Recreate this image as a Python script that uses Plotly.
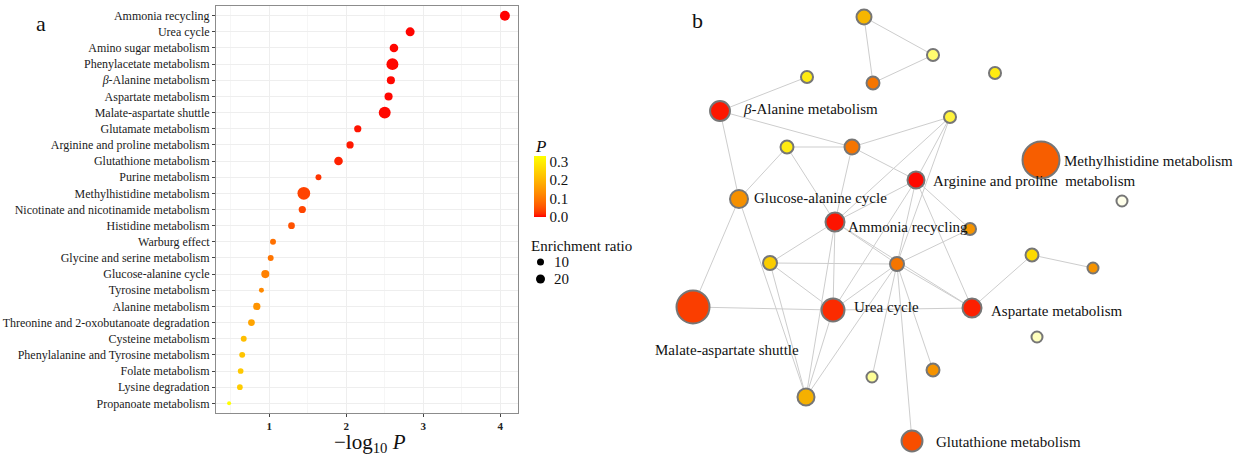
import math
import plotly.graph_objects as go

# ---------------- Panel a data ----------------
pathways = ["Ammonia recycling", "Urea cycle", "Amino sugar metabolism", "Phenylacetate metabolism",
            "β-Alanine metabolism", "Aspartate metabolism", "Malate-aspartate shuttle",
            "Glutamate metabolism", "Arginine and proline metabolism", "Glutathione metabolism",
            "Purine metabolism", "Methylhistidine metabolism", "Nicotinate and nicotinamide metabolism",
            "Histidine metabolism", "Warburg effect", "Glycine and serine metabolism",
            "Glucose-alanine cycle", "Tyrosine metabolism", "Alanine metabolism",
            "Threonine and 2-oxobutanoate degradation", "Cysteine metabolism",
            "Phenylalanine and Tyrosine metabolism", "Folate metabolism", "Lysine degradation",
            "Propanoate metabolism"]
neg_log10_p = [4.06, 2.83, 2.62, 2.60, 2.58, 2.55, 2.50, 2.15, 2.05, 1.90, 1.64, 1.45, 1.43,
               1.29, 1.05, 1.02, 0.95, 0.90, 0.84, 0.77, 0.67, 0.65, 0.63, 0.62, 0.48]
enrichment_ratio = [26, 20, 18, 41, 15, 15, 41, 11, 11, 18, 6, 48, 11, 9, 6, 6, 15, 3.4, 11, 9,
                    6, 6, 5.3, 5.3, 1.4]
x_ticks = [1, 2, 3, 4]
p_ticks = [0.0, 0.1, 0.2, 0.3]
size_legend_values = [10, 20]

# ---------------- Panel b data (network layout coordinates) ----------------
node_x = [2.44, 3.13, 2.53, 3.75, 1.87, 1.00, 1.67, 2.32, 3.30, 2.96, 4.21, 5.02, 1.19, 2.15,
          3.50, 1.50, 2.77, 4.12, 4.73, 2.13, 3.52, 0.73, 4.17, 2.52, 3.13, 1.86, 2.92]
node_y = [4.40, 4.02, 3.74, 3.84, 3.80, 3.46, 3.10, 3.10, 3.40, 2.77, 2.97, 2.56, 2.58, 2.35,
          2.28, 1.94, 1.93, 2.02, 1.89, 1.47, 1.49, 1.50, 1.20, 0.80, 0.87, 0.60, 0.16]
node_heat = [0.52, 0.83, 0.30, 0.72, 0.72, 0.06, 0.72, 0.30, 0.77, 0.02, 0.24, 0.99, 0.39, 0.05,
             0.40, 0.60, 0.30, 0.65, 0.40, 0.11, 0.08, 0.16, 0.93, 0.88, 0.40, 0.50, 0.20]
node_weight = [18, 12.3, 14, 12.3, 12.3, 30, 14, 18, 12.3, 22.6, 95, 10.6, 25, 27.6,
               12.3, 16, 16, 14, 10.6, 39, 27.6, 76.6, 10.6, 10.6, 14, 22.6, 33]
edges = [(0, 1), (0, 2), (1, 2), (4, 5), (5, 7), (5, 12), (6, 7), (6, 12), (6, 13),
         (7, 13), (7, 9), (8, 7), (8, 9), (8, 16), (8, 13), (12, 21), (12, 25),
         (13, 9), (13, 15), (13, 19), (13, 16), (13, 20), (13, 25),
         (9, 16), (9, 19), (9, 14), (9, 20), (15, 16), (15, 19), (15, 25),
         (16, 19), (16, 20), (16, 14), (16, 23), (16, 24), (16, 26), (16, 25),
         (19, 21), (19, 20), (19, 25), (20, 17), (17, 18)]
label_nodes = [5, 12, 13, 9, 10, 19, 20, 21, 26]
label_texts = ["<i>β</i>-Alanine metabolism", "Glucose-alanine cycle", "Ammonia recycling",
               "Arginine and proline&nbsp;&nbsp;metabolism", "Methylhistidine metabolism",
               "Urea cycle", "Aspartate metabolism", "Malate-aspartate shuttle",
               "Glutathione metabolism"]
label_style = [  # (xanchor, xshift, yshift)
    ("left", 21, 2), ("left", 13, 1), ("left", 11, -5), ("left", 15, -1), ("left", 21, -1),
    ("left", 19, 3), ("left", 17, -3), ("center", 34, -43), ("left", 22, -1)]

FONT = "Liberation Serif"
W, H = 1250, 457


# ---------- Lab colour interpolation (ggplot-like gradient red -> yellow) ----------
def _f(t):
    return t ** (1 / 3) if t > 216 / 24389 else (24389 / 27 * t + 16) / 116


def _finv(t):
    return t ** 3 if t ** 3 > 216 / 24389 else (116 * t - 16) / (24389 / 27)


def rgb2lab(h):
    r, g, b = [int(h[i:i + 2], 16) / 255 for i in (1, 3, 5)]
    lin = [c / 12.92 if c <= 0.04045 else ((c + 0.055) / 1.055) ** 2.4 for c in (r, g, b)]
    X = (0.4124564 * lin[0] + 0.3575761 * lin[1] + 0.1804375 * lin[2]) / 0.95047
    Y = 0.2126729 * lin[0] + 0.7151522 * lin[1] + 0.0721750 * lin[2]
    Z = (0.0193339 * lin[0] + 0.1191920 * lin[1] + 0.9503041 * lin[2]) / 1.08883
    fx, fy, fz = _f(X), _f(Y), _f(Z)
    return 116 * fy - 16, 500 * (fx - fy), 200 * (fy - fz)


def lab2rgb(L, a, b):
    fy = (L + 16) / 116
    fx = fy + a / 500
    fz = fy - b / 200
    X = _finv(fx) * 0.95047
    Y = _finv(fy)
    Z = _finv(fz) * 1.08883
    r = 3.2404542 * X - 1.5371385 * Y - 0.4985314 * Z
    g = -0.9692660 * X + 1.8760108 * Y + 0.0415560 * Z
    bb = 0.0556434 * X - 0.2040259 * Y + 1.0572252 * Z

    def gam(c):
        c = max(0.0, min(1.0, c))
        return 12.92 * c if c <= 0.0031308 else 1.055 * c ** (1 / 2.4) - 0.055
    return "rgb(%d,%d,%d)" % tuple(round(gam(c) * 255) for c in (r, g, bb))


lo, hi = rgb2lab("#FF0000"), rgb2lab("#FFFF00")
cs_a = []
for i in range(21):
    t = i / 20
    cs_a.append([t, lab2rgb(*[lo[k] + (hi[k] - lo[k]) * t for k in range(3)])])

cs_b = [[0, "#FF0000"], [0.3, "#F57500"], [0.5, "#F5B000"], [0.7, "#FFE800"],
        [0.85, "#FFFF80"], [1.0, "#FFFFF2"]]

p_vals = [10 ** (-v) for v in neg_log10_p]


def dot_diam(er):
    # area-style size scale (diameter grows with sqrt of the ratio)
    return 2.17 + 1.527 * math.sqrt(er)


fig = go.Figure()

# Panel a dots
fig.add_trace(go.Scatter(
    x=neg_log10_p, y=pathways, mode="markers", xaxis="x", yaxis="y",
    marker=dict(size=[dot_diam(e) for e in enrichment_ratio], sizemode="diameter",
                color=p_vals, colorscale=cs_a, cmin=0, cmax=max(p_vals),
                line=dict(width=0), opacity=1,
                colorbar=dict(x=534 / W, xanchor="left", xpad=0, ypad=0,
                              y=1 - 186.5 / H, yanchor="middle", len=61 / H, lenmode="fraction",
                              thickness=12, outlinewidth=0, ticks="",
                              tickvals=p_ticks, ticktext=["%.1f" % v for v in p_ticks],
                              tickfont=dict(family=FONT, size=15, color="#111"))),
    showlegend=False, hoverinfo="skip"))

# Size legend dots
fig.add_trace(go.Scatter(
    x=[0] * len(size_legend_values), y=list(range(len(size_legend_values))), mode="markers",
    xaxis="x3", yaxis="y3",
    marker=dict(size=[dot_diam(v) for v in size_legend_values], color="black",
                line=dict(width=0), opacity=1),
    showlegend=False, hoverinfo="skip"))

# Panel b edges
ex, ey = [], []
for a, b in edges:
    ex += [node_x[a], node_x[b], None]
    ey += [node_y[a], node_y[b], None]
fig.add_trace(go.Scatter(x=ex, y=ey, mode="lines", xaxis="x2", yaxis="y2",
                         line=dict(color="#CDCDCD", width=1), showlegend=False, hoverinfo="skip"))

# Panel b nodes
fig.add_trace(go.Scatter(
    x=node_x, y=node_y, mode="markers", xaxis="x2", yaxis="y2",
    marker=dict(size=[4 * math.sqrt(w) - 2 for w in node_weight], color=node_heat,
                colorscale=cs_b, cmin=0, cmax=1, showscale=False, opacity=1,
                line=dict(color="#767676", width=2)),
    showlegend=False, hoverinfo="skip"))

annotations = []
for n_i, txt, (xa, xs, ys) in zip(label_nodes, label_texts, label_style):
    annotations.append(dict(x=node_x[n_i], y=node_y[n_i], xref="x2", yref="y2", text=txt,
                            showarrow=False, xanchor=xa, yanchor="middle", xshift=xs, yshift=ys,
                            font=dict(family=FONT, size=15, color="#111")))
for i, v in enumerate(size_legend_values):
    annotations.append(dict(x=1, y=i, xref="x3", yref="y3", text=str(v), showarrow=False,
                            xanchor="left", yanchor="middle", xshift=5,
                            font=dict(family=FONT, size=15, color="#111")))
annotations += [
    dict(x=41 / W, y=1 - 23 / H, xref="paper", yref="paper", text="a", showarrow=False,
         xanchor="center", yanchor="middle", font=dict(family=FONT, size=22, color="#111")),
    dict(x=697 / W, y=1 - 20 / H, xref="paper", yref="paper", text="b", showarrow=False,
         xanchor="center", yanchor="middle", font=dict(family=FONT, size=22, color="#111")),
    dict(x=370 / W, y=1 - 443 / H, xref="paper", yref="paper",
         text="−log<sub>10</sub> <i>P</i>", showarrow=False,
         xanchor="center", yanchor="middle", font=dict(family=FONT, size=21, color="#111")),
    dict(x=533 / W, y=1 - 146 / H, xref="paper", yref="paper", text="<i>P</i>",
         showarrow=False, xanchor="left", yanchor="middle",
         font=dict(family=FONT, size=17, color="#111")),
    dict(x=529 / W, y=1 - 246 / H, xref="paper", yref="paper", text="Enrichment ratio",
         showarrow=False, xanchor="left", yanchor="middle",
         font=dict(family=FONT, size=15, color="#111")),
]

tick_text = [p.replace("β", "<i>β</i>") for p in pathways]
n = len(pathways)

fig.update_layout(
    width=W, height=H, margin=dict(l=0, r=0, t=0, b=0),
    paper_bgcolor="white", plot_bgcolor="white",
    font=dict(family=FONT, color="#111"),
    xaxis=dict(domain=[216 / W, 518 / W], range=[0.31, 4.23], anchor="y",
               tickvals=x_ticks, ticks="outside", ticklen=3, tickcolor="#444",
               tickfont=dict(family=FONT, size=11, color="#222", weight="bold"),
               showgrid=True, gridcolor="#EEEEEE", gridwidth=1, zeroline=False,
               minor=dict(dtick=0.5, tick0=0.5, showgrid=True, gridcolor="#F6F6F6", ticks=""),
               showline=True, mirror=True, linecolor="#8C8C8C", linewidth=1),
    yaxis=dict(domain=[1 - 413 / H, 1 - 6 / H], anchor="x", type="category",
               categoryorder="array", categoryarray=pathways, range=[n - 0.4, -0.6],
               tickmode="array", tickvals=pathways, ticktext=tick_text,
               ticks="outside", ticklen=3, tickcolor="#444",
               tickfont=dict(family=FONT, size=12, color="#1a1a1a"),
               showgrid=True, gridcolor="#EEEEEE", gridwidth=1, zeroline=False,
               showline=True, mirror=True, linecolor="#8C8C8C", linewidth=1),
    xaxis2=dict(domain=[620 / W, 1], range=[0, 6.3], anchor="y2", visible=False),
    yaxis2=dict(domain=[0, 1], range=[0, 4.57], anchor="x2", visible=False),
    xaxis3=dict(domain=[534.5 / W, 546.5 / W], range=[-1, 1], anchor="y3", visible=False),
    yaxis3=dict(domain=[1 - 287.5 / H, 1 - 253.5 / H], anchor="x3", range=[1.5, -0.5],
                visible=False),
    annotations=annotations,
)

fig.write_html("out.html", config={"displayModeBar": False},
               post_script="document.body.style.margin='0';document.body.style.padding='0';"
                           "document.body.style.overflow='hidden';")
